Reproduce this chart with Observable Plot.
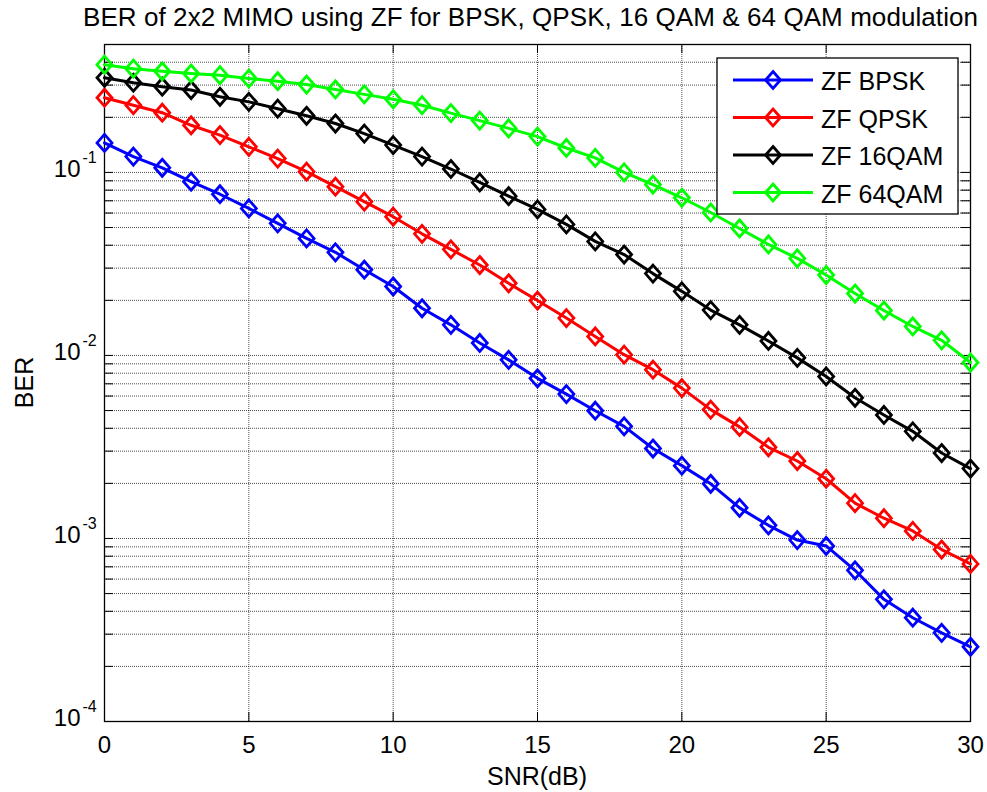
<!DOCTYPE html>
<html><head><meta charset="utf-8">
<script src="https://cdn.jsdelivr.net/npm/d3@7"></script>
<script src="https://cdn.jsdelivr.net/npm/@observablehq/plot@0.6"></script>
<style>
body{margin:0;background:#fff;}
#wrap{position:relative;width:987px;height:792px;font-family:"Liberation Sans",Arial,sans-serif;background:#fff;}
#wrap svg{position:absolute;left:0;top:0;}
</style></head><body><div id="wrap"></div>
<script>
// ---- data ----
const snr = [0,1,2,3,4,5,6,7,8,9,10,11,12,13,14,15,16,17,18,19,20,21,22,23,24,25,26,27,28,29,30];
const berBPSK = [0.145,0.122,0.106,0.089,0.076,0.0636,0.0527,0.0436,0.0366,0.0294,0.0238,0.0181,0.0147,0.0117,0.00946,0.0075,0.00615,0.00499,0.0041,0.0031,0.0025,0.00199,0.00147,0.00118,0.00098,0.00091,0.00067,0.000465,0.000369,0.000305,0.000256];
const berQPSK = [0.256,0.233,0.212,0.181,0.160,0.138,0.119,0.101,0.0836,0.0692,0.0573,0.0462,0.038,0.0312,0.0248,0.01995,0.016,0.0127,0.0101,0.00836,0.00663,0.00506,0.00407,0.00315,0.00265,0.00212,0.00156,0.00129,0.0011,0.00087,0.000726];
const ber16QAM = [0.329,0.309,0.294,0.282,0.259,0.243,0.223,0.204,0.185,0.163,0.141,0.122,0.1044,0.0882,0.0742,0.0628,0.052,0.042,0.0356,0.028,0.0224,0.0177,0.0147,0.012,0.0097,0.00768,0.00587,0.00473,0.00385,0.00293,0.00241];
const ber64QAM = [0.388,0.369,0.357,0.347,0.34,0.326,0.315,0.302,0.284,0.267,0.251,0.233,0.211,0.192,0.174,0.157,0.136,0.120,0.100,0.0858,0.0727,0.0604,0.0494,0.0404,0.0339,0.0275,0.0218,0.0176,0.0144,0.0121,0.00915];
const seriesNames = ["ZF BPSK","ZF QPSK","ZF 16QAM","ZF 64QAM"];
const seriesColors = ["#0000ff","#ff0000","#000000","#00ff00"];
const seriesValues = [berBPSK, berQPSK, ber16QAM, ber64QAM];
const xTicks = [0,5,10,15,20,25,30];
const yDecades = [1e-4,1e-3,1e-2,1e-1];
const yDecadeExp = ["-4","-3","-2","-1"];
const yMinor = [2e-4,3e-4,4e-4,5e-4,6e-4,7e-4,8e-4,9e-4,
                2e-3,3e-3,4e-3,5e-3,6e-3,7e-3,8e-3,9e-3,
                2e-2,3e-2,4e-2,5e-2,6e-2,7e-2,8e-2,9e-2,
                2e-1,3e-1,4e-1];
const titleText = "BER of 2x2 MIMO using ZF for BPSK, QPSK, 16 QAM & 64 QAM modulation";
const xLabel = "SNR(dB)";
const yLabel = "BER";

// ---- layout ----
const W = 987, H = 792;
const mL = 104, mR = 17, mT = 44, mB = 71;
const plotW = W - mL - mR, plotH = H - mT - mB;
const tickLen = 9;

const rows = seriesValues.flatMap((vals, i) => snr.map((x, j) => ({snr: x, ber: vals[j], series: seriesNames[i]})));

const matlabDiamond = {
  draw(ctx, size) {
    const r = Math.sqrt(size / Math.PI);
    const w = r * 0.88;
    ctx.moveTo(0, -r); ctx.lineTo(w, 0); ctx.lineTo(0, r); ctx.lineTo(-w, 0); ctx.closePath();
  }
};

const yAllTicks = yDecades.concat(yMinor);
const gridStyle = {stroke: "#000", strokeOpacity: 0.7, strokeDasharray: "1,1", strokeWidth: 1};

const seriesMarks = seriesNames.flatMap((name, i) => {
  const d = rows.filter(r => r.series === name);
  return [
    Plot.line(d, {x: "snr", y: "ber", stroke: seriesColors[i], strokeWidth: 3}),
    Plot.dot(d, {x: "snr", y: "ber", symbol: matlabDiamond, r: 8.5, stroke: seriesColors[i], strokeWidth: 2.8, fill: "none"})
  ];
});

const chart = Plot.plot({
  width: W, height: H,
  marginLeft: mL, marginRight: mR, marginTop: mT, marginBottom: mB,
  style: {fontFamily: '"Liberation Sans", Arial, sans-serif', color: "#000", background: "transparent"},
  x: {domain: [0, 30], axis: null},
  y: {type: "log", domain: [1e-4, 0.5], axis: null},
  marks: [
    Plot.ruleX(xTicks, {x: d => d, ...gridStyle}),
    Plot.ruleY(yAllTicks, {y: d => d, ...gridStyle}),
    Plot.tickX(xTicks, {x: d => d, insetTop: plotH - tickLen, stroke: "#000"}),
    Plot.tickX(xTicks, {x: d => d, insetBottom: plotH - tickLen, stroke: "#000"}),
    Plot.tickY(yAllTicks, {y: d => d, insetRight: plotW - tickLen, stroke: "#000"}),
    Plot.tickY(yAllTicks, {y: d => d, insetLeft: plotW - tickLen, stroke: "#000"}),
    Plot.frame({stroke: "#000", strokeWidth: 1.3}),
    ...seriesMarks,
    Plot.text(xTicks, {x: d => d, text: d => String(d), frameAnchor: "bottom", lineAnchor: "top", dy: 14, fontSize: 24}),
    Plot.text(yDecades, {y: d => d, text: () => "10", frameAnchor: "left", textAnchor: "end", dx: -24, dy: -3, fontSize: 24}),
    Plot.text(yDecades, {y: d => d, text: (d, i) => yDecadeExp[i], frameAnchor: "left", textAnchor: "start", dx: -22, dy: -15, fontSize: 16})
  ]
});
document.getElementById("wrap").appendChild(chart);

// ---- overlay: title, axis labels, legend ----
const ov = d3.select("#wrap").append("svg")
  .attr("width", W).attr("height", H)
  .style("pointer-events", "none")
  .style("font-family", '"Liberation Sans", Arial, sans-serif');

ov.append("text").attr("x", (83 + 978) / 2).attr("y", 26)
  .attr("text-anchor", "middle").attr("font-size", 26)
  .attr("textLength", 895).attr("lengthAdjust", "spacing")
  .text(titleText);

ov.append("text").attr("x", mL + plotW / 2).attr("y", 785)
  .attr("text-anchor", "middle").attr("font-size", 25).text(xLabel);

ov.append("text").attr("transform", `translate(33,${mT + plotH / 2}) rotate(-90)`)
  .attr("text-anchor", "middle").attr("font-size", 25).text(yLabel);

const lg = ov.append("g");
const lgX = 717, lgY = 58, lgW = 241, lgH = 156;
lg.append("rect").attr("x", lgX).attr("y", lgY).attr("width", lgW).attr("height", lgH)
  .attr("fill", "#fff").attr("stroke", "#000").attr("stroke-width", 1.3);
const rowY = [80, 117.5, 155, 192.5];
seriesNames.forEach((name, i) => {
  const y = rowY[i];
  lg.append("line").attr("x1", 733).attr("x2", 813).attr("y1", y).attr("y2", y)
    .attr("stroke", seriesColors[i]).attr("stroke-width", 3);
  const r = 8.5, w = r * 0.88, cx = 773;
  lg.append("path").attr("d", `M${cx},${y - r}L${cx + w},${y}L${cx},${y + r}L${cx - w},${y}Z`)
    .attr("fill", "none").attr("stroke", seriesColors[i]).attr("stroke-width", 2.8);
  lg.append("text").attr("x", 821).attr("y", y + 10).attr("font-size", 25).text(name);
});
</script></body></html>
